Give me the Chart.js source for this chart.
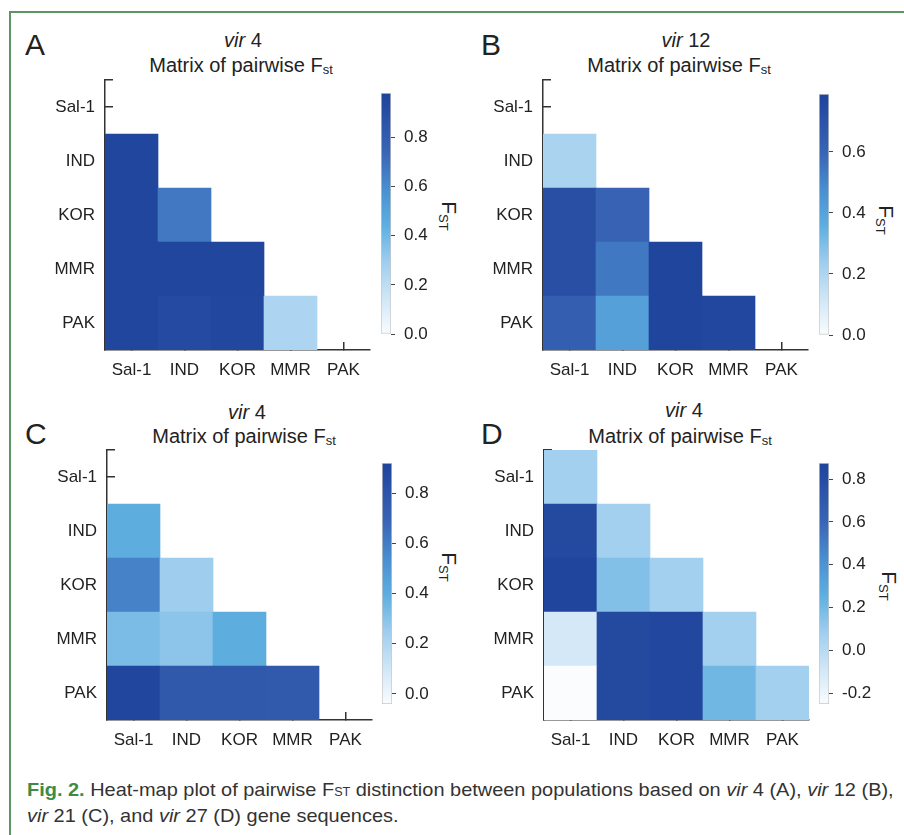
<!DOCTYPE HTML>
<html>
<head>
  <meta charset='utf-8'>
  <title>Pairwise Fst heat maps</title>
  <script src='https://cdn.jsdelivr.net/npm/chart.js'></script>
  <style>
    body {
      margin: 0;
      width: 904px;
      height: 835px;
      overflow: hidden;
      background: #fff;
      font-family: 'Liberation Sans', Arial, sans-serif;
      color: #222;
      position: relative;
    }
    .frame {
      position: absolute;
      left: 9px;
      top: 11px;
      width: 900px;
      height: 830px;
      border-top: 2px solid #5c9462;
      border-left: 2px solid #5c9462;
    }
    canvas { position: absolute; }
    .letter {
      position: absolute;
      font-size: 30px;
      line-height: 30px;
    }
    .title {
      position: absolute;
      transform: translateX(-50%);
      white-space: nowrap;
      font-size: 20px;
      line-height: 22px;
      text-align: center;
    }
    .title sub { font-size: 13px; vertical-align: -2px; }
    .cb sub { font-size: 13px; vertical-align: -3px; }
    .cb {
      position: absolute;
      transform: translate(-50%, -50%) rotate(90deg);
      font-size: 21px;
      white-space: nowrap;
    }
    .caption {
      position: absolute;
      left: 27px;
      top: 778px;
      font-family: 'Liberation Sans Narrow', 'Liberation Sans', Arial, sans-serif;
      font-size: 19px;
      line-height: 23px;
      color: #333;
      white-space: nowrap;
      transform-origin: 0 0;
    }
    .caption b { color: #3d8b45; }
    .caption small { font-size: 12px; }
  </style>
</head>
<body>
  <div class='frame'></div>

  <div class='letter' style='left:25px; top:30px'>A</div>
  <div class='title' style='left:243px; top:29px'><i>vir</i> 4</div>
  <div class='title' style='left:241px; top:54px'>Matrix of pairwise F<sub>st</sub></div>
  <div class='cb' style='left:448px; top:216px'>F<sub>ST</sub></div>

  <div class='letter' style='left:481px; top:30px'>B</div>
  <div class='title' style='left:686px; top:29px'><i>vir</i> 12</div>
  <div class='title' style='left:679px; top:54px'>Matrix of pairwise F<sub>st</sub></div>
  <div class='cb' style='left:885px; top:220px'>F<sub>ST</sub></div>

  <div class='letter' style='left:25px; top:419px'>C</div>
  <div class='title' style='left:247px; top:401px'><i>vir</i> 4</div>
  <div class='title' style='left:244px; top:425px'>Matrix of pairwise F<sub>st</sub></div>
  <div class='cb' style='left:448px; top:567px'>F<sub>ST</sub></div>

  <div class='letter' style='left:481px; top:419px'>D</div>
  <div class='title' style='left:684px; top:399px'><i>vir</i> 4</div>
  <div class='title' style='left:680px; top:425px'>Matrix of pairwise F<sub>st</sub></div>
  <div class='cb' style='left:888px; top:586px'>F<sub>ST</sub></div>

  <canvas id='heatA' width='340' height='330' style='left:40px; top:70px'></canvas>
  <canvas id='barA' width='70' height='257' style='left:375px; top:85px'></canvas>
  <canvas id='heatB' width='340' height='330' style='left:478px; top:70px'></canvas>
  <canvas id='barB' width='70' height='257' style='left:813px; top:86px'></canvas>
  <canvas id='heatC' width='340' height='330' style='left:42px; top:440px'></canvas>
  <canvas id='barC' width='70' height='257' style='left:376px; top:455px'></canvas>
  <canvas id='heatD' width='340' height='330' style='left:479px; top:440px'></canvas>
  <canvas id='barD' width='70' height='257' style='left:813px; top:455px'></canvas>

  <div class='caption' id='caption'>
    <b>Fig. 2.</b> Heat-map plot of pairwise F<small>ST</small> distinction between populations based on <i>vir</i> 4 (A), <i>vir</i> 12 (B),<br>
    <i>vir</i> 21 (C), and <i>vir</i> 27 (D) gene sequences.
  </div>

  <script>
    // populations, same order on both axes
    var pops = ['Sal-1', 'IND', 'KOR', 'MMR', 'PAK'];

    // pairwise Fst, row = y population, column = x population (null = not drawn)
    var fstA = [
      [null, null, null, null, null],
      [0.96, null, null, null, null],
      [0.96, 0.67, null, null, null],
      [0.96, 0.96, 0.96, null, null],
      [0.96, 0.93, 0.95, 0.25, null]
    ];
    var fstB = [
      [null, null, null, null, null],
      [0.21, null, null, null, null],
      [0.72, 0.61, null, null, null],
      [0.72, 0.54, 0.78, null, null],
      [0.64, 0.41, 0.78, 0.77, null]
    ];
    var fstC = [
      [null, null, null, null, null],
      [0.40, null, null, null, null],
      [0.58, 0.25, null, null, null],
      [0.33, 0.29, 0.40, null, null],
      [0.90, 0.77, 0.77, 0.76, null]
    ];
    var fstD = [
      [0.07, null, null, null, null],
      [0.82, 0.07, null, null, null],
      [0.86, 0.16, 0.07, null, null],
      [-0.10, 0.82, 0.84, 0.07, null],
      [-0.25, 0.82, 0.84, 0.21, 0.07]
    ];

    // colour bar limits and tick labels
    var rangeA = [0, 0.98];
    var rangeB = [0, 0.79];
    var rangeC = [-0.04, 0.92];
    var rangeD = [-0.25, 0.875];
    var ticksA = [0, 0.2, 0.4, 0.6, 0.8];
    var ticksB = [0, 0.2, 0.4, 0.6];
    var ticksC = [0, 0.2, 0.4, 0.6, 0.8];
    var ticksD = [-0.2, 0, 0.2, 0.4, 0.6, 0.8];

    // colour map, white -> sky blue -> dark blue
    var stops = [
      [0.00, [250, 252, 254]],
      [0.15, [207, 230, 246]],
      [0.30, [159, 205, 238]],
      [0.45, [94, 175, 224]],
      [0.60, [74, 143, 208]],
      [0.75, [58, 102, 182]],
      [1.00, [31, 67, 155]]
    ];

    function mapColor(t) {
      t = Math.max(0, Math.min(1, t));
      for (var i = 1; i < stops.length; i++) {
        if (t <= stops[i][0]) {
          var a = stops[i - 1], b = stops[i];
          var f = (t - a[0]) / (b[0] - a[0]);
          var c = a[1].map(function(v, k) { return Math.round(v + (b[1][k] - v) * f); });
          return 'rgb(' + c.join(',') + ')';
        }
      }
      return 'rgb(' + stops[stops.length - 1][1].join(',') + ')';
    }

    var font = { family: "'Liberation Sans', Arial, sans-serif", size: 17 };
    var axisColor = '#333';

    // drop the room Chart.js keeps for overhanging tick labels
    function noPad(s) {
      s.paddingTop = 0;
      s.paddingBottom = 0;
      s.paddingLeft = 0;
      s.paddingRight = 0;
    }

    function heatmap(id, values, range) {
      var cells = [];
      values.forEach(function(row, r) {
        row.forEach(function(v, c) {
          if (v !== null) cells.push({ x: pops[c], y: [r - 0.5, r + 0.5], v: v });
        });
      });
      new Chart(document.getElementById(id), {
        type: 'bar',
        data: {
          labels: pops,
          datasets: [{
            data: cells,
            grouped: false,
            barPercentage: 1,
            categoryPercentage: 1,
            borderWidth: 0,
            backgroundColor: function(ctx) {
              var raw = ctx.raw;
              if (!raw) return 'transparent';
              return mapColor((raw.v - range[0]) / (range[1] - range[0]));
            }
          }]
        },
        options: {
          responsive: false,
          animation: false,
          layout: { padding: { top: 10, right: 10, bottom: 10, left: 0 } },
          plugins: { legend: { display: false }, tooltip: { enabled: false } },
          scales: {
            x: {
              type: 'category',
              offset: true,
              z: 1,
              grid: { drawOnChartArea: false, offset: false, tickLength: -8, color: axisColor, lineWidth: 1.5 },
              border: { display: true, color: axisColor, width: 1.5 },
              ticks: { color: '#222', font: font, padding: 18, maxRotation: 0, autoSkip: false },
              afterFit: function(s) { s.height = 40; noPad(s); }
            },
            y: {
              type: 'linear',
              min: -0.5,
              max: 4.5,
              reverse: true,
              z: 1,
              afterBuildTicks: function(s) {
                s.ticks = [-0.5, 0, 1, 2, 3, 4].map(function(v) { return { value: v }; });
              },
              grid: { drawOnChartArea: false, tickLength: -8, color: axisColor, lineWidth: 1.5 },
              border: { display: true, color: axisColor, width: 1.5 },
              ticks: {
                color: '#222',
                font: font,
                padding: 18,
                callback: function(v) { return Number.isInteger(v) ? pops[v] : ''; }
              },
              afterFit: function(s) { s.width = 65; noPad(s); }
            }
          }
        }
      });
    }

    function colorbar(id, range, ticks) {
      new Chart(document.getElementById(id), {
        type: 'bar',
        data: {
          labels: [''],
          datasets: [{
            data: [range],
            barPercentage: 1,
            categoryPercentage: 1,
            borderWidth: 1,
            borderColor: '#c8c8c8',
            borderSkipped: false,
            backgroundColor: function(ctx) {
              var area = ctx.chart.chartArea;
              if (!area) return 'transparent';
              var g = ctx.chart.ctx.createLinearGradient(0, area.bottom, 0, area.top);
              stops.forEach(function(s) { g.addColorStop(s[0], 'rgb(' + s[1].join(',') + ')'); });
              return g;
            }
          }]
        },
        options: {
          responsive: false,
          animation: false,
          layout: { padding: { top: 8, right: 4, bottom: 8, left: 6 } },
          plugins: { legend: { display: false }, tooltip: { enabled: false } },
          scales: {
            x: { display: false },
            y: {
              position: 'right',
              min: range[0],
              max: range[1],
              afterBuildTicks: function(s) {
                s.ticks = ticks.map(function(v) { return { value: v }; });
              },
              grid: { drawOnChartArea: false, tickLength: 4, color: '#444', lineWidth: 1 },
              border: { display: false },
              ticks: {
                color: '#222',
                font: font,
                padding: 9,
                callback: function(v) { return v.toFixed(1); }
              },
              afterFit: function(s) { s.width = 50; noPad(s); }
            }
          }
        }
      });
    }

    heatmap('heatA', fstA, rangeA);
    heatmap('heatB', fstB, rangeB);
    heatmap('heatC', fstC, rangeC);
    heatmap('heatD', fstD, rangeD);
    colorbar('barA', rangeA, ticksA);
    colorbar('barB', rangeB, ticksB);
    colorbar('barC', rangeC, ticksC);
    colorbar('barD', rangeD, ticksD);

    // squeeze the caption to the width it has in the figure
    var cap = document.getElementById('caption');
    var sx = 866 / cap.scrollWidth;
    cap.style.transform = 'scaleX(' + sx.toFixed(3) + ')';
  </script>
</body>
</html>
